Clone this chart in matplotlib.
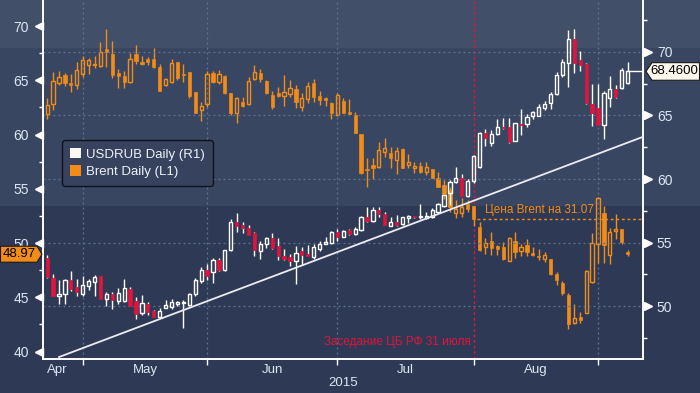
import numpy as np
import pandas as pd
import matplotlib
matplotlib.use('Agg')
import matplotlib.pyplot as plt
import matplotlib.transforms as mtransforms
from matplotlib.patches import Patch, Polygon

plt.rcParams['font.family'] = ['Liberation Sans', 'DejaVu Sans']

# торговые дни
dates = pd.bdate_range('2015-04-22', periods=99)

# Brent, левая шкала
brent_open = [61.86, 62.81, 64.78, 65.48, 64.75, 64.56, 65.58, 66.41, 66.40, 66.31,
              67.88, 67.39, 65.70, 65.39, 64.81, 67.42, 66.71, 66.93, 66.93, 66.19,
              64.53, 64.87, 66.68, 65.57, 65.79, 63.92, 62.23, 62.78, 65.64, 64.87,
              65.39, 63.79, 62.01, 63.03, 62.78, 65.08, 65.70, 64.96, 63.64, 63.80,
              63.58, 63.73, 64.22, 62.57, 63.24, 64.72, 63.55, 63.40, 62.94, 61.80,
              63.09, 62.10, 61.80, 60.05, 56.82, 57.19, 57.04, 58.42, 58.33, 57.65,
              58.66, 57.19, 56.91, 57.13, 56.51, 56.82, 55.96, 55.36, 54.88, 52.80,
              52.80, 53.56, 53.43, 51.51, 49.67, 50.15, 49.76, 49.60, 48.38, 50.15,
              49.30, 49.82, 49.08, 48.80, 48.56, 48.56, 47.12, 46.36, 45.22, 42.61,
              43.22, 43.59, 46.45, 49.94, 52.80, 48.93, 51.07, 51.32, 49.20]
brent_high = [63.33, 65.79, 65.85, 65.64, 65.58, 66.71, 67.23, 67.02, 67.20, 68.53,
              69.72, 68.62, 66.04, 65.85, 67.54, 68.25, 67.23, 67.17, 67.94, 66.50,
              65.20, 66.93, 66.68, 66.50, 65.79, 63.92, 62.96, 65.85, 65.85, 65.94,
              65.48, 63.79, 63.43, 63.43, 65.27, 66.41, 66.04, 65.02, 64.01, 64.35,
              65.48, 65.02, 64.56, 63.80, 64.87, 65.08, 64.04, 63.49, 63.03, 63.80,
              63.33, 63.27, 62.10, 60.05, 57.80, 57.80, 59.31, 59.71, 58.88, 58.88,
              58.79, 58.20, 57.50, 57.50, 57.50, 56.82, 56.57, 55.80, 55.20, 53.96,
              54.12, 53.96, 53.43, 51.97, 50.46, 50.98, 49.85, 50.06, 50.52, 51.04,
              49.91, 50.37, 49.60, 49.45, 49.14, 48.56, 47.33, 46.48, 45.38, 44.36,
              43.68, 47.52, 50.89, 54.27, 53.41, 51.38, 52.70, 51.32, 49.35]
brent_low = [61.46, 62.26, 64.56, 64.50, 63.95, 64.16, 65.27, 65.58, 66.10, 66.25,
             66.25, 65.18, 64.32, 64.32, 64.72, 66.50, 66.37, 66.40, 66.10, 64.04,
             64.47, 64.72, 65.02, 64.80, 63.33, 62.01, 61.27, 62.57, 64.72, 64.66,
             63.73, 61.80, 61.03, 62.57, 62.72, 65.02, 64.87, 63.73, 62.32, 63.49,
             62.63, 63.49, 62.41, 62.20, 62.87, 63.03, 62.72, 62.63, 61.40, 61.70,
             61.95, 61.90, 60.11, 56.36, 55.13, 55.87, 56.88, 57.96, 56.88, 56.36,
             56.88, 56.94, 56.42, 56.42, 56.27, 55.96, 55.13, 54.10, 52.90, 52.27,
             52.43, 52.89, 51.60, 49.27, 49.00, 48.90, 48.93, 48.44, 48.32, 48.66,
             48.84, 48.84, 48.84, 48.41, 48.23, 47.03, 46.11, 45.25, 42.09, 42.52,
             42.61, 43.53, 46.30, 48.20, 48.17, 48.10, 50.34, 49.88, 48.80]
brent_close = [62.69, 64.93, 65.27, 64.72, 64.56, 65.91, 66.87, 66.87, 66.50, 67.57,
               67.63, 65.48, 65.42, 64.87, 66.93, 66.80, 66.50, 66.71, 66.25, 64.04,
               65.12, 66.62, 65.24, 65.48, 63.58, 62.01, 62.63, 65.58, 64.87, 65.58,
               63.79, 61.95, 63.33, 62.63, 64.93, 65.73, 65.12, 63.86, 62.57, 63.58,
               63.89, 64.26, 63.03, 63.33, 64.47, 63.49, 63.18, 63.18, 61.95, 63.64,
               61.95, 61.90, 60.17, 56.42, 56.76, 56.94, 58.57, 58.79, 57.80, 58.48,
               56.94, 57.43, 57.13, 56.57, 57.04, 56.02, 55.19, 54.53, 53.35, 53.13,
               53.35, 53.13, 52.21, 49.36, 49.97, 49.54, 49.45, 48.53, 50.46, 49.14,
               49.60, 49.20, 48.90, 48.75, 48.87, 47.12, 46.57, 45.41, 42.52, 43.07,
               42.92, 47.43, 49.97, 54.12, 49.82, 50.98, 51.32, 50.12, 48.97]

# USDRUB, правая шкала
rub_open = [53.78, 52.20, 50.84, 50.95, 52.08, 51.50, 50.97, 51.61, 51.87, 52.34,
            50.60, 50.94, 50.39, 50.39, 51.37, 50.44, 49.44, 50.18, 49.63, 49.18,
            49.89, 49.97, 50.16, 50.25, 50.13, 50.92, 52.02, 52.81, 52.68, 53.65,
            52.86, 54.41, 56.59, 56.38, 56.12, 55.76, 54.36, 54.88, 55.33, 54.70,
            53.92, 53.84, 53.58, 54.31, 54.10, 53.84, 54.49, 54.88, 54.96, 55.86,
            55.46, 56.00, 55.70, 56.00, 56.98, 56.71, 57.58, 57.26, 56.27, 56.66,
            56.45, 56.92, 57.10, 57.00, 56.92, 57.00, 57.37, 57.84, 58.89, 59.75,
            60.07, 58.63, 59.81, 60.93, 63.61, 62.87, 63.55, 64.08, 64.08, 63.00,
            64.34, 64.34, 64.95, 64.97, 65.58, 65.97, 66.70, 68.19, 69.11, 71.02,
            69.37, 69.06, 65.91, 65.57, 64.26, 66.36, 67.09, 67.14, 67.59]
rub_high = [54.04, 52.55, 52.08, 52.16, 52.73, 52.16, 52.34, 52.16, 52.47, 52.39,
            51.08, 51.08, 51.45, 52.16, 51.50, 50.71, 50.89, 50.31, 49.71, 49.84,
            50.47, 50.55, 50.42, 50.50, 51.05, 52.18, 53.07, 53.34, 53.78, 53.78,
            54.44, 56.85, 57.32, 56.59, 56.38, 55.86, 55.15, 55.44, 55.76, 55.33,
            54.49, 54.10, 54.70, 54.62, 54.81, 54.88, 55.10, 55.46, 55.92, 56.10,
            55.97, 56.10, 56.20, 57.10, 57.79, 57.79, 57.79, 57.39, 57.05, 57.18,
            57.05, 57.18, 57.13, 58.00, 57.37, 57.71, 58.10, 58.76, 59.94, 60.98,
            60.41, 59.99, 61.90, 63.66, 63.92, 63.87, 64.71, 64.79, 64.79, 64.39,
            65.52, 65.10, 65.34, 65.89, 66.10, 66.88, 68.40, 69.42, 71.73, 71.78,
            70.03, 69.16, 67.48, 67.48, 66.96, 68.11, 67.40, 68.72, 69.19]
rub_low = [52.20, 50.84, 50.20, 50.20, 51.21, 50.84, 50.84, 51.26, 50.84, 50.55,
           49.98, 49.79, 50.20, 50.31, 50.00, 49.02, 49.31, 49.31, 49.13, 49.05,
           49.84, 49.76, 50.00, 48.25, 50.00, 50.79, 51.81, 52.07, 51.81, 52.73,
           52.73, 54.33, 55.81, 55.76, 55.63, 53.97, 53.71, 54.57, 54.49, 53.65,
           53.65, 53.18, 51.73, 53.26, 53.97, 53.71, 54.36, 54.88, 54.88, 55.10,
           55.44, 55.60, 55.60, 55.95, 56.66, 56.66, 57.05, 56.35, 56.27, 56.27,
           56.40, 56.53, 56.97, 56.84, 56.84, 56.92, 57.32, 57.79, 57.97, 59.67,
           58.68, 58.58, 59.67, 60.85, 62.56, 62.56, 63.47, 63.90, 62.87, 62.98,
           63.47, 64.13, 64.76, 64.92, 65.45, 65.52, 66.62, 68.06, 67.27, 68.32,
           68.53, 65.91, 64.18, 64.26, 63.13, 65.65, 66.36, 67.09, 67.48]
rub_close = [52.26, 50.84, 50.95, 52.08, 51.37, 51.08, 51.68, 52.00, 52.26, 50.60,
             50.94, 50.47, 51.05, 51.45, 50.05, 49.39, 50.23, 49.58, 49.13, 49.63,
             50.13, 50.29, 50.29, 50.27, 50.92, 52.05, 52.81, 52.39, 53.65, 52.86,
             54.38, 56.64, 56.28, 56.12, 55.63, 54.44, 54.88, 55.36, 54.57, 53.92,
             53.71, 53.58, 54.18, 54.05, 53.97, 54.62, 54.88, 55.02, 55.86, 55.44,
             55.92, 55.65, 56.05, 56.98, 56.71, 57.58, 57.24, 56.40, 56.66, 56.40,
             57.00, 57.10, 57.00, 57.08, 57.10, 57.58, 58.02, 58.71, 59.75, 60.07,
             58.68, 59.86, 61.82, 63.61, 63.21, 63.55, 64.08, 64.00, 62.95, 64.39,
             64.26, 64.84, 65.26, 65.63, 65.89, 66.70, 68.19, 69.24, 71.02, 69.11,
             68.98, 65.96, 65.23, 64.26, 66.80, 67.06, 66.49, 68.58, 68.46]

# линия тренда USDRUB (индекс дня, значение)
trend_idx = [2, 100.6]
trend_val = [46.0, 63.32]

months = ['Apr', 'May', 'Jun', 'Jul', 'Aug']
cbr_date = '2015-07-31'

BG_TOP = np.array([66, 79, 104]) / 255
BG_MID = np.array([57, 70, 97]) / 255
BG_LOW = np.array([46, 58, 85]) / 255
ORANGE = '#F28C18'
RED = '#E0143C'
TXT = '#DCE6F2'
GRID = '#5C7595'

W, H = 700, 393
fig = plt.figure(figsize=(W / 100, H / 100), dpi=100)

# фон полосами
bg = fig.add_axes([0, 0, 1, 1], zorder=-10)
grad = np.zeros((H, 1, 3))
grad[:48] = BG_TOP
grad[48:206] = BG_MID
grad[206:] = BG_LOW
bg.imshow(grad, aspect='auto', extent=[0, 1, 0, 1])
bg.axis('off')

ax = fig.add_axes([43 / W, 1 - 358.7 / H, 600 / W, 358.7 / H])
ax.set_facecolor('none')
ax2 = ax.twinx()
ax2.patch.set_visible(False)

XMIN, XMAX = -0.7, 100.6
ax.set_xlim(XMIN, XMAX)
ax.set_ylim(39.34, 72.4)
ax2.set_ylim(45.87, 74.08)


def candles(a, o, h, l, c, up_edge, down_face, wick_up, wick_down, width=0.55):
    o, h, l, c = map(np.asarray, (o, h, l, c))
    x = np.arange(len(o))
    top = np.maximum(o, c)
    bot = np.minimum(o, c)
    up = c >= o
    for sel, wc in ((up, wick_up), (~up, wick_down)):
        a.vlines(x[sel], top[sel], h[sel], color=wc, lw=1.0, zorder=3)
        a.vlines(x[sel], l[sel], bot[sel], color=wc, lw=1.0, zorder=3)
    hgt = np.maximum(top - bot, 0.05)
    a.bar(x[up], hgt[up], width, bottom=bot[up], facecolor='none',
          edgecolor=up_edge, lw=1.0, zorder=4)
    a.bar(x[~up], hgt[~up], width, bottom=bot[~up], facecolor=down_face,
          edgecolor=down_face, lw=0.5, zorder=4)


candles(ax, brent_open, brent_high, brent_low, brent_close, ORANGE, ORANGE, ORANGE, ORANGE)
candles(ax2, rub_open, rub_high, rub_low, rub_close, 'white', RED, 'white', 'white')

# сетка по правой шкале
for v in range(50, 75, 5):
    ax2.axhline(v, color=GRID, ls=(0, (1.5, 2.5)), lw=0.9, zorder=1)

# границы месяцев
month_end = [int(np.where(dates.month == m)[0][-1]) for m in range(4, 9)]
cbr_idx = int(dates.get_loc(pd.Timestamp(cbr_date)))
for xi in month_end:
    if xi != cbr_idx:
        ax.axvline(xi, color=GRID, ls=(0, (1.5, 2.5)), lw=0.9, zorder=1)
ax.axvline(cbr_idx, color=RED, ls=(0, (2, 2)), lw=1.0, zorder=2)

ax.set_xticks(month_end)
ax.set_xticklabels([''] * len(month_end))
starts = [-2.5] + month_end[:-1]
ax.set_xticks([(s + e) / 2 for s, e in zip(starts, month_end)], minor=True)
ax.set_xticklabels(months, minor=True)
ax.tick_params(axis='x', which='major', length=4, width=1, color='white', direction='out')
ax.tick_params(axis='x', which='minor', length=0, pad=4, labelsize=9.5, labelcolor=TXT)
fig.text(343 / W, 1 - 383 / H, '2015', ha='center', va='center', fontsize=9.5, color=TXT)

# левая шкала
ax.set_yticks(range(40, 75, 5))
ax.set_yticks(np.arange(42.5, 70, 5), minor=True)
ax.tick_params(axis='y', which='major', length=0, pad=10, labelsize=10, labelcolor=TXT)
ax.tick_params(axis='y', which='minor', length=3, width=1, color='white')
ax.plot(np.full(7, -0.0065), range(40, 75, 5), ls='none', marker='<', ms=6, color='white',
        transform=mtransforms.blended_transform_factory(ax.transAxes, ax.transData), clip_on=False)

# правая шкала
ax2.set_yticks(range(50, 75, 5))
ax2.set_yticks(np.arange(47.5, 75, 5), minor=True)
ax2.tick_params(axis='y', which='major', length=0, pad=10, labelsize=10, labelcolor=TXT)
ax2.tick_params(axis='y', which='minor', length=3, width=1, color='white')
ax2.plot(np.full(5, 1.0088), range(50, 75, 5), ls='none', marker='>', ms=6, color='white',
         transform=mtransforms.blended_transform_factory(ax2.transAxes, ax2.transData), clip_on=False)

for a in (ax, ax2):
    a.spines['top'].set_visible(False)
    for s in ('left', 'right', 'bottom'):
        a.spines[s].set_color('white')
        a.spines[s].set_linewidth(1.2)

# тренд
ax2.plot(trend_idx, trend_val, color='#ECECF2', lw=1.3, zorder=5)

# цена Brent на 31.07
brent_ref = brent_close[cbr_idx]
ax.hlines(brent_ref, cbr_idx + 0.6, XMAX, color=ORANGE, ls=(0, (2, 2)), lw=1.0, zorder=2)
ax.annotate('Цена Brent на 31.07', (cbr_idx + 2.0, brent_ref), xytext=(0, 2.5),
            textcoords='offset points', ha='left', va='bottom', fontsize=8.5, color=ORANGE)
ax.text(cbr_idx - 0.4, 0.047, 'Заседание ЦБ РФ 31 июля', ha='right', va='center',
        fontsize=8.5, color=RED,
        transform=mtransforms.blended_transform_factory(ax.transData, ax.transAxes))

# линия до последнего значения USDRUB
ax2.hlines(rub_close[-1], len(rub_close) - 1, XMAX, color='white', lw=1.0, zorder=5)

# легенда
leg = ax2.legend(handles=[Patch(facecolor='#FFF6EE', edgecolor='none'),
                          Patch(facecolor=ORANGE, edgecolor='none')],
                 labels=['USDRUB Daily (R1)', 'Brent Daily (L1)'],
                 loc='upper left', bbox_to_anchor=((62 - 43) / 600, (358.7 - 140) / 358.7),
                 borderaxespad=0, fontsize=9.5, handlelength=0.85, handleheight=0.85,
                 handletextpad=0.4, labelspacing=0.35, borderpad=0.6, fancybox=True,
                 framealpha=1, labelcolor='#EEF2F8')
leg.get_frame().set_facecolor('#36425E')
leg.get_frame().set_edgecolor('#0E121C')
leg.get_frame().set_linewidth(1.0)
leg.set_zorder(10)


# ярлыки последних значений
def pix_y(a, v):
    return H - a.transData.transform((0, v))[1]


def to_fig(pts):
    return [(x / W, 1 - y / H) for x, y in pts]


yb = pix_y(ax, brent_close[-1])
fig.patches.append(Polygon(to_fig([(0.5, yb - 8), (37, yb - 8), (42, yb), (37, yb + 8), (0.5, yb + 8)]),
                           closed=True, facecolor=ORANGE, edgecolor='#1A1A1A', lw=0.8,
                           transform=fig.transFigure, figure=fig, zorder=20))
fig.text(19.5 / W, 1 - yb / H, f'{brent_close[-1]:.2f}', ha='center', va='center',
         fontsize=9.5, color='black', zorder=21)

yr = pix_y(ax2, rub_close[-1])
fig.patches.append(Polygon(to_fig([(646, yr), (652, yr - 8.8), (699.5, yr - 8.8), (699.5, yr + 8.8), (652, yr + 8.8)]),
                           closed=True, facecolor='#FFF7EC', edgecolor='#1A1A1A', lw=0.8,
                           transform=fig.transFigure, figure=fig, zorder=20))
fig.text(674.5 / W, 1 - yr / H, f'{rub_close[-1]:.4f}', ha='center', va='center',
         fontsize=9.5, color='black', zorder=21)

fig.savefig('out.png', dpi=100)
